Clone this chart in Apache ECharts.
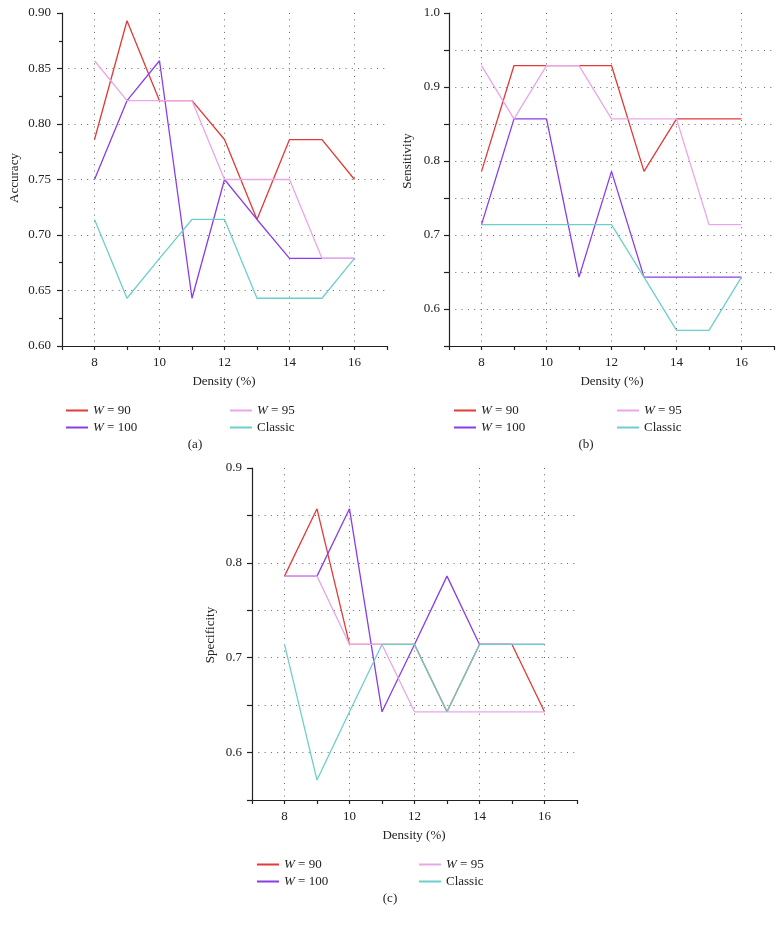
<!DOCTYPE html>
<html>
<head>
<meta charset="utf-8">
<script src="https://cdn.jsdelivr.net/npm/echarts@6/dist/echarts.min.js"></script>
<style>
html,body{margin:0;padding:0;background:#fff;}
#chart{width:783px;height:925px;}
</style>
</head>
<body>
<div id="chart"></div>
<script>
// ---- data ----
const density = [8, 9, 10, 11, 12, 13, 14, 15, 16];
const seriesNames = ['W = 90', 'W = 100', 'W = 95', 'Classic'];

// (a) Accuracy
const accW90  = [0.786, 0.893, 0.821, 0.821, 0.786, 0.714, 0.786, 0.786, 0.750];
const accW100 = [0.750, 0.821, 0.857, 0.643, 0.750, 0.714, 0.679, 0.679, 0.679];
const accW95  = [0.857, 0.821, 0.821, 0.821, 0.750, 0.750, 0.750, 0.679, 0.679];
const accCls  = [0.714, 0.643, 0.679, 0.714, 0.714, 0.643, 0.643, 0.643, 0.679];

// (b) Sensitivity
const senW90  = [0.786, 0.929, 0.929, 0.929, 0.929, 0.786, 0.857, 0.857, 0.857];
const senW100 = [0.714, 0.857, 0.857, 0.643, 0.786, 0.643, 0.643, 0.643, 0.643];
const senW95  = [0.929, 0.857, 0.929, 0.929, 0.857, 0.857, 0.857, 0.714, 0.714];
const senCls  = [0.714, 0.714, 0.714, 0.714, 0.714, 0.643, 0.571, 0.571, 0.643];

// (c) Specificity
const speW90  = [0.786, 0.857, 0.714, 0.714, 0.714, 0.643, 0.714, 0.714, 0.643];
const speW100 = [0.786, 0.786, 0.857, 0.643, 0.714, 0.786, 0.714, 0.714, 0.714];
const speW95  = [0.786, 0.786, 0.714, 0.714, 0.643, 0.643, 0.643, 0.643, 0.643];
const speCls  = [0.714, 0.571, 0.643, 0.714, 0.714, 0.643, 0.714, 0.714, 0.714];

// axis labels
const yNames = ['Accuracy', 'Sensitivity', 'Specificity'];
const xName = 'Density (%)';
const panelLabels = ['(a)', '(b)', '(c)'];

// ---- styling ----
const FONT = 'Liberation Serif';
const colors = {'W = 90': '#e23a36', 'W = 100': '#8a3de6', 'W = 95': '#eaa6e6', 'Classic': '#6ccfcc'};
const panels = [
  {data: [accW90, accW100, accW95, accCls], grid: {left: 62, top: 13, width: 325, height: 333},
   y: {min: 0.6, max: 0.9, interval: 0.05, all: true, margin: 11}},
  {data: [senW90, senW100, senW95, senCls], grid: {left: 449, top: 13, width: 325, height: 333},
   y: {min: 0.55, max: 1.0, interval: 0.05, all: false, margin: 9}},
  {data: [speW90, speW100, speW95, speCls], grid: {left: 252, top: 468, width: 325, height: 332},
   y: {min: 0.55, max: 0.9, interval: 0.05, all: false, margin: 10}}
];

const dotted = {type: [1, 5.3], color: '#666', width: 1};
const axisLineStyle = {color: '#222', width: 1.2};

const grid = [], xAxis = [], yAxis = [], series = [];
panels.forEach((p, i) => {
  grid.push(Object.assign({containLabel: false}, p.grid));
  xAxis.push({
    type: 'value', gridIndex: i, min: 7, max: 17, interval: 1,
    axisLine: {show: true, lineStyle: axisLineStyle},
    axisTick: {show: true, inside: false, length: 4, lineStyle: axisLineStyle},
    axisLabel: {
      margin: 10, fontFamily: FONT, fontSize: 13, color: '#222',
      formatter: v => (Math.round(v) % 2 === 0 ? String(Math.round(v)) : '')
    },
    splitLine: {show: true, showMinLine: false, showMaxLine: false,
      lineStyle: {type: dotted.type, width: 1, color: ['#666', 'rgba(0,0,0,0)']}}
  });
  yAxis.push({
    type: 'value', gridIndex: i, min: p.y.min, max: p.y.max, interval: p.y.interval,
    axisLine: {show: true, lineStyle: axisLineStyle},
    axisTick: {show: true, inside: false, length: 5, lineStyle: axisLineStyle},
    minorTick: {show: p.y.all, splitNumber: 2, length: 3, lineStyle: axisLineStyle},
    axisLabel: {
      margin: p.y.margin, fontFamily: FONT, fontSize: 13, color: '#222',
      formatter: v => {
        if (p.y.all) return v.toFixed(2);
        const k = Math.round(v * 20);
        return k % 2 === 0 ? v.toFixed(1) : '';
      }
    },
    splitLine: {show: true, showMinLine: false, showMaxLine: false, lineStyle: dotted}
  });
  p.data.forEach((vals, s) => {
    const name = seriesNames[s];
    series.push({
      type: 'line', name: name, xAxisIndex: i, yAxisIndex: i,
      data: density.map((d, k) => [d, vals[k]]),
      symbol: 'none', animation: false,
      lineStyle: {color: colors[name], width: 1.3},
      itemStyle: {color: colors[name]}
    });
  });
});

function legend(left, top, names) {
  return {
    left: left, top: top, orient: 'vertical', itemGap: 2,
    itemWidth: 22, itemHeight: 2, icon: 'rect',
    selectedMode: false,
    data: names,
    textStyle: {fontFamily: FONT, fontSize: 13, color: '#222', lineHeight: 15,
      rich: {i: {fontStyle: 'italic', fontFamily: FONT, fontSize: 13, color: '#222'}}},
    formatter: n => n.startsWith('W') ? '{i|W}' + n.slice(1) : n
  };
}
const legends = [
  legend(61, 398, ['W = 90', 'W = 100']), legend(225, 398, ['W = 95', 'Classic']),
  legend(449, 398, ['W = 90', 'W = 100']), legend(612, 398, ['W = 95', 'Classic']),
  legend(252, 852, ['W = 90', 'W = 100']), legend(414, 852, ['W = 95', 'Classic'])
];

function txt(x, y, text, rot) {
  return {type: 'text', x: x, y: y, rotation: rot || 0,
    style: {text: text, fontFamily: FONT, fontSize: 13, fill: '#222', align: 'center', verticalAlign: 'middle'}};
}
const graphic = [
  txt(15, 178, yNames[0], Math.PI / 2),
  txt(408, 161, yNames[1], Math.PI / 2),
  txt(211, 635, yNames[2], Math.PI / 2),
  txt(224, 382, xName), txt(612, 382, xName), txt(414, 836, xName),
  txt(195, 445, panelLabels[0]), txt(586, 445, panelLabels[1]), txt(390, 899, panelLabels[2])
];

const chart = echarts.init(document.getElementById('chart'), null, {renderer: 'canvas'});
chart.setOption({
  animation: false,
  backgroundColor: '#fff',
  grid: grid, xAxis: xAxis, yAxis: yAxis, series: series,
  legend: legends, graphic: graphic
});
</script>
</body>
</html>
